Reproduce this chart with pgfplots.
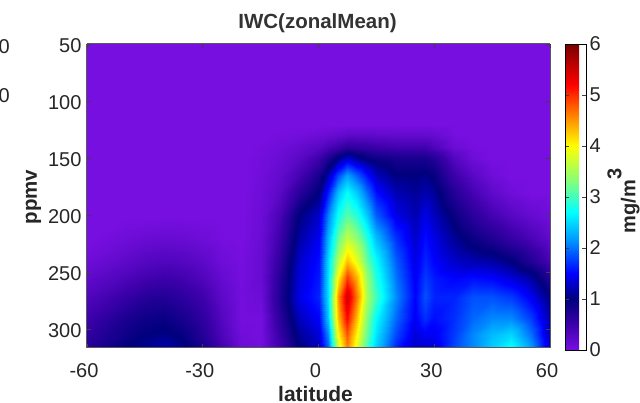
\documentclass[border=0pt]{standalone}
\usepackage{pgfplots}
\usepackage{fontspec}
\setmainfont{Liberation Sans}
\pgfplotsset{compat=1.18}
\begin{document}
\begin{tikzpicture}[x=1pt,y=1pt]
\useasboundingbox (0,0) rectangle (640,403);
\node[anchor=east,inner sep=0pt,font=\fontsize{20}{20}\selectfont,text=black!85] at (10,356) {0};
\node[anchor=east,inner sep=0pt,font=\fontsize{20}{20}\selectfont,text=black!85] at (10,307) {0};
\begin{axis}[
 at={(87pt,55pt)},anchor=south west,
 scale only axis,width=463pt,height=304pt,
 xmin=-60,xmax=60,ymin=50,ymax=316.7,y dir=reverse,
 view={0}{90},
 xtick={-60,-30,0,30,60},xticklabels={-60,-30,0,30,60},
 ytick={50,100,150,200,250,300},yticklabels={50,100,150,200,250,300},
 tick align=inside,major tick length=4pt,
 tick style={black!75,line width=0.8pt},
 axis line style={black!65,line width=1pt},
 axis on top,
 every tick label/.append style={font=\fontsize{20}{20}\selectfont,text=black!85},
 xticklabel style={yshift=-12pt,xshift=-3pt},
 yticklabel style={xshift=-2pt,yshift=-1.5pt},
 title={\bfseries IWC(zonalMean)},
 title style={font=\fontsize{20.5}{20.5}\selectfont,text=black!80,yshift=2pt,xshift=-1pt},
 xlabel={\bfseries latitude},ylabel={\bfseries ppmv},
 xlabel style={font=\fontsize{21}{21}\selectfont,text=black!85,yshift=-1.5pt,xshift=-3pt},
 ylabel style={font=\fontsize{20.5}{20.5}\selectfont,text=black!85,yshift=0pt,xshift=-1pt},
 point meta min=0,point meta max=6,
 colormap={iwc}{rgb255(0)=(120,15,225); rgb255(5)=(60,0,170); rgb255(10)=(0,0,125); rgb255(15)=(0,0,255); rgb255(22)=(0,160,255); rgb255(27)=(0,255,255); rgb255(33)=(130,255,125); rgb255(40)=(255,255,0); rgb255(46)=(255,130,0); rgb255(52)=(255,0,0); rgb255(60)=(120,0,0)},
 colorbar,
 colorbar style={
  at={(1.0324,-0.0066)},anchor=south west,
  width=21pt,height=306pt,
  ytick={0,1,2,3,4,5,6},yticklabels={0,1,2,3,4,5,6},
  yticklabel pos=right,
  ylabel={\bfseries mg/m\raisebox{0.7em}{3}},
  ylabel style={font=\fontsize{20}{20}\selectfont,text=black!85,yshift=0pt,xshift=-4pt},
  tick align=inside,major tick length=4pt,
 },
]
\addplot3[surf,shader=interp,mesh/cols=28] coordinates {
(-60,50,0)(-50,50,0)(-45,50,0)(-40,50,0)(-35,50,0)(-30,50,0)(-25,50,0)(-20,50,0)(-15,50,0)(-10,50,0)(-5,50,0)(0,50,0)(2.5,50,0)(5,50,0)(7.5,50,0)(10,50,0)(12.5,50,0)(15,50,0)(20,50,0)(25,50,0)(27.5,50,0)(30,50,0)(35,50,0)(40,50,0)(45,50,0)(50,50,0)(55,50,0)(60,50,0)
(-60,120,0)(-50,120,0)(-45,120,0)(-40,120,0)(-35,120,0)(-30,120,0)(-25,120,0)(-20,120,0)(-15,120,0)(-10,120,0)(-5,120,0)(0,120,0)(2.5,120,0)(5,120,0)(7.5,120,0)(10,120,0)(12.5,120,0)(15,120,0)(20,120,0)(25,120,0)(27.5,120,0)(30,120,0)(35,120,0)(40,120,0)(45,120,0)(50,120,0)(55,120,0)(60,120,0)
(-60,130,0)(-50,130,0)(-45,130,0)(-40,130,0)(-35,130,0)(-30,130,0)(-25,130,0)(-20,130,0)(-15,130,0)(-10,130,.03)(-5,130,.05)(0,130,.1)(2.5,130,.13)(5,130,.17)(7.5,130,.22)(10,130,.22)(12.5,130,.22)(15,130,.2)(20,130,.18)(25,130,.18)(27.5,130,.18)(30,130,.14)(35,130,.02)(40,130,0)(45,130,0)(50,130,0)(55,130,0)(60,130,0)
(-60,140,0)(-50,140,0)(-45,140,0)(-40,140,0)(-35,140,0)(-30,140,0)(-25,140,0)(-20,140,0)(-15,140,.03)(-10,140,.08)(-5,140,.17)(0,140,.28)(2.5,140,.38)(5,140,.5)(7.5,140,.62)(10,140,.58)(12.5,140,.55)(15,140,.5)(20,140,.45)(25,140,.45)(27.5,140,.45)(30,140,.35)(35,140,.1)(40,140,.02)(45,140,0)(50,140,0)(55,140,0)(60,140,0)
(-60,150,0)(-50,150,0)(-45,150,0)(-40,150,0)(-35,150,0)(-30,150,0)(-25,150,0)(-20,150,0)(-15,150,.05)(-10,150,.12)(-5,150,.25)(0,150,.5)(2.5,150,.75)(5,150,1.05)(7.5,150,1.3)(10,150,1.1)(12.5,150,.95)(15,150,.88)(20,150,.8)(25,150,.8)(27.5,150,.8)(30,150,.7)(35,150,.3)(40,150,.08)(45,150,0)(50,150,0)(55,150,0)(60,150,0)
(-60,165,0)(-50,165,0)(-45,165,0)(-40,165,0)(-35,165,0)(-30,165,0)(-25,165,0)(-20,165,0)(-15,165,.06)(-10,165,.18)(-5,165,.42)(0,165,.8)(2.5,165,1.2)(5,165,1.8)(7.5,165,2.2)(10,165,1.9)(12.5,165,1.55)(15,165,1.25)(20,165,1.0)(25,165,1.0)(27.5,165,1.05)(30,165,.95)(35,165,.5)(40,165,.25)(45,165,.08)(50,165,0)(55,165,0)(60,165,0)
(-60,180,0)(-50,180,0)(-45,180,0)(-40,180,0)(-35,180,0)(-30,180,0)(-25,180,0)(-20,180,0)(-15,180,.08)(-10,180,.25)(-5,180,.65)(0,180,1.0)(2.5,180,1.6)(5,180,2.35)(7.5,180,2.7)(10,180,2.4)(12.5,180,1.95)(15,180,1.55)(20,180,1.2)(25,180,1.1)(27.5,180,1.2)(30,180,1.1)(35,180,.7)(40,180,.42)(45,180,.2)(50,180,.07)(55,180,0)(60,180,0)
(-60,200,0)(-50,200,0)(-45,200,0)(-40,200,0)(-35,200,0)(-30,200,0)(-25,200,0)(-20,200,0)(-15,200,.1)(-10,200,.4)(-5,200,1.0)(0,200,1.3)(2.5,200,2.05)(5,200,2.75)(7.5,200,3.1)(10,200,2.85)(12.5,200,2.4)(15,200,1.9)(20,200,1.4)(25,200,1.2)(27.5,200,1.4)(30,200,1.25)(35,200,.92)(40,200,.65)(45,200,.43)(50,200,.27)(55,200,.15)(60,200,.05)
(-60,220,0)(-50,220,.08)(-45,220,.12)(-40,220,.14)(-35,220,.12)(-30,220,.08)(-25,220,.02)(-20,220,0)(-15,220,.12)(-10,220,.5)(-5,220,1.15)(0,220,1.45)(2.5,220,2.3)(5,220,3.15)(7.5,220,3.65)(10,220,3.35)(12.5,220,2.85)(15,220,2.35)(20,220,1.7)(25,220,1.3)(27.5,220,1.55)(30,220,1.4)(35,220,1.1)(40,220,.9)(45,220,.75)(50,220,.55)(55,220,.38)(60,220,.18)
(-60,240,.08)(-50,240,.22)(-45,240,.3)(-40,240,.33)(-35,240,.3)(-30,240,.22)(-25,240,.08)(-20,240,.02)(-15,240,.14)(-10,240,.62)(-5,240,1.3)(0,240,1.55)(2.5,240,2.5)(5,240,3.6)(7.5,240,4.3)(10,240,3.85)(12.5,240,3.15)(15,240,2.7)(20,240,1.9)(25,240,1.4)(27.5,240,1.65)(30,240,1.5)(35,240,1.3)(40,240,1.2)(45,240,1.15)(50,240,1.0)(55,240,.72)(60,240,.4)
(-60,255,.2)(-50,255,.36)(-45,255,.45)(-40,255,.5)(-35,255,.45)(-30,255,.33)(-25,255,.15)(-20,255,.03)(-15,255,.14)(-10,255,.7)(-5,255,1.35)(0,255,1.6)(2.5,255,2.55)(5,255,4.05)(7.5,255,4.95)(10,255,4.35)(12.5,255,3.4)(15,255,2.85)(20,255,2.0)(25,255,1.45)(27.5,255,1.75)(30,255,1.6)(35,255,1.5)(40,255,1.55)(45,255,1.5)(50,255,1.35)(55,255,1.15)(60,255,.72)
(-60,272,.33)(-50,272,.55)(-45,272,.68)(-40,272,.72)(-35,272,.62)(-30,272,.48)(-25,272,.22)(-20,272,.04)(-15,272,.1)(-10,272,.75)(-5,272,1.4)(0,272,1.65)(2.5,272,2.55)(5,272,4.5)(7.5,272,5.5)(10,272,4.6)(12.5,272,3.5)(15,272,3.0)(20,272,2.1)(25,272,1.5)(27.5,272,1.85)(30,272,1.65)(35,272,1.65)(40,272,1.85)(45,272,1.85)(50,272,1.75)(55,272,1.45)(60,272,1.0)
(-60,290,.48)(-50,290,.78)(-45,290,.88)(-40,290,.92)(-35,290,.8)(-30,290,.6)(-25,290,.3)(-20,290,.03)(-15,290,.04)(-10,290,.65)(-5,290,1.25)(0,290,1.5)(2.5,290,2.4)(5,290,4.3)(7.5,290,5.2)(10,290,4.3)(12.5,290,3.3)(15,290,2.7)(20,290,1.95)(25,290,1.45)(27.5,290,1.7)(30,290,1.55)(35,290,1.7)(40,290,1.95)(45,290,2.1)(50,290,2.1)(55,290,1.75)(60,290,1.15)
(-60,305,.6)(-50,305,.9)(-45,305,1.0)(-40,305,1.05)(-35,305,.95)(-30,305,.7)(-25,305,.35)(-20,305,.06)(-15,305,.03)(-10,305,.55)(-5,305,1.1)(0,305,1.35)(2.5,305,2.1)(5,305,4.0)(7.5,305,4.8)(10,305,4.0)(12.5,305,3.15)(15,305,2.55)(20,305,1.8)(25,305,1.35)(27.5,305,1.45)(30,305,1.45)(35,305,1.75)(40,305,2.1)(45,305,2.35)(50,305,2.5)(55,305,2.0)(60,305,1.2)
(-60,316.7,.7)(-50,316.7,1.0)(-45,316.7,1.1)(-40,316.7,1.2)(-35,316.7,1.05)(-30,316.7,.8)(-25,316.7,.45)(-20,316.7,.1)(-15,316.7,.03)(-10,316.7,.45)(-5,316.7,1.0)(0,316.7,1.25)(2.5,316.7,1.9)(5,316.7,3.7)(7.5,316.7,4.6)(10,316.7,3.8)(12.5,316.7,3.0)(15,316.7,2.45)(20,316.7,1.65)(25,316.7,1.3)(27.5,316.7,1.3)(30,316.7,1.4)(35,316.7,1.8)(40,316.7,2.1)(45,316.7,2.45)(50,316.7,2.75)(55,316.7,2.2)(60,316.7,1.25)
};
\end{axis}
\end{tikzpicture}
\end{document}
